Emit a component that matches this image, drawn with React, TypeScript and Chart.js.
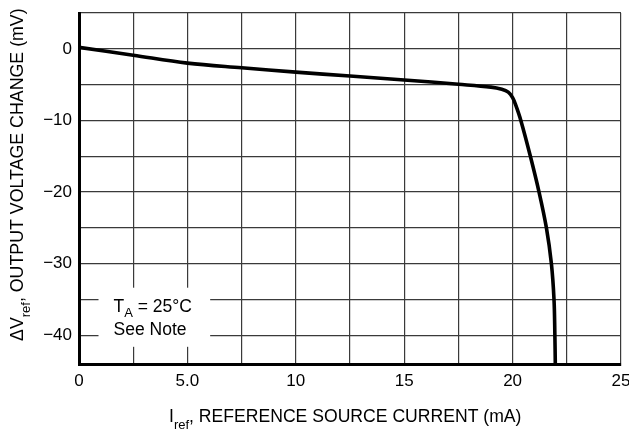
import React, { useEffect, useRef } from "react";
import { Chart, registerables } from "chart.js";

Chart.register(...registerables);

// ---- data ----
const currentMA: number[] = [0, 2.5, 5, 7.5, 10, 12.5, 15, 17.5, 19, 19.5, 19.8, 20.0, 20.15, 20.38, 20.82, 21.22, 21.56, 21.79, 21.91, 21.95, 21.97];
const deltaVmV: number[] = [0.2, -0.9, -2.0, -2.65, -3.25, -3.8, -4.35, -4.95, -5.35, -5.65, -6.05, -6.8, -7.9, -10, -15, -20, -25, -30, -35, -40, -44];

const xGrid: number[] = [0, 2.5, 5, 7.5, 10, 12.5, 15, 17.5, 20, 22.5, 25];
const xLabelValues: number[] = [0, 5, 10, 15, 20, 25];
const xLabels: string[] = ["0", "5.0", "10", "15", "20", "25"];

const yGrid: number[] = [5, 0, -5, -10, -15, -20, -25, -30, -35, -40, -44];
const yLabelValues: number[] = [0, -10, -20, -30, -40];
const yLabels: string[] = ["0", "\u221210", "\u221220", "\u221230", "\u221240"];

const X_MIN = 0, X_MAX = 25, Y_MIN = -44, Y_MAX = 5;

const FONT = '"Liberation Sans", Arial, Helvetica, sans-serif';

type Part = { t: string; sub?: boolean };

function drawParts(ctx: CanvasRenderingContext2D, parts: Part[], x: number, y: number, main: number, sub: number, shift: number) {
  let cx = x;
  for (const p of parts) {
    ctx.font = `${p.sub ? sub : main}px ${FONT}`;
    ctx.fillText(p.t, cx, p.sub ? y + shift : y);
    cx += ctx.measureText(p.t).width;
  }
}

const labelsPlugin = {
  id: "customLabels",
  beforeDatasetsDraw(chart: any) {
    const ctx: CanvasRenderingContext2D = chart.ctx;
    const xs = chart.scales.x, ys = chart.scales.y;
    // annotation box (white background over grid)
    const bx0 = xs.getPixelForValue(0.9), bx1 = xs.getPixelForValue(6.05);
    const by0 = ys.getPixelForValue(-33.35), by1 = ys.getPixelForValue(-41.6);
    ctx.save();
    ctx.fillStyle = "#ffffff";
    ctx.fillRect(bx0, by0, bx1 - bx0, by1 - by0);
    ctx.fillStyle = "#000";
    ctx.textBaseline = "alphabetic";
    ctx.textAlign = "left";
    drawParts(ctx, [{ t: "T" }, { t: "A", sub: true }, { t: " = 25\u00B0C" }], bx0 + 15, by0 + 24, 17.5, 13, 5);
    drawParts(ctx, [{ t: "See Note" }], bx0 + 15, by0 + 47, 17.5, 13, 5);
    ctx.restore();
  },
  afterDraw(chart: any) {
    const ctx: CanvasRenderingContext2D = chart.ctx;
    const area = chart.chartArea;
    ctx.save();
    ctx.fillStyle = "#000";
    ctx.textBaseline = "alphabetic";
    ctx.textAlign = "left";
    // x title
    drawParts(ctx, [{ t: "I" }, { t: "ref", sub: true }, { t: ", REFERENCE SOURCE CURRENT (mA)" }], area.left + 90, area.bottom + 58, 17.6, 13, 6.5);
    // y title
    ctx.translate(23, 341);
    ctx.rotate(-Math.PI / 2);
    drawParts(ctx, [{ t: "\u0394V" }, { t: "ref", sub: true }, { t: ", OUTPUT VOLTAGE CHANGE (mV)" }], 0, 0, 17.8, 13, 7);
    ctx.restore();
  },
};

export default function App() {
  const ref = useRef<HTMLCanvasElement | null>(null);
  useEffect(() => {
    if (!ref.current) return;
    const points = currentMA.map((x, i) => ({ x, y: deltaVmV[i] }));
    const chart = new Chart(ref.current, {
      type: "line",
      data: {
        datasets: [
          {
            data: points,
            borderColor: "#000",
            borderWidth: 3.6,
            pointRadius: 0,
            fill: false,
            tension: 0.35,
          },
        ],
      },
      options: {
        animation: false,
        responsive: false,
        devicePixelRatio: 1,
        layout: { padding: { top: 13, right: 8, left: 0, bottom: 0 } },
        plugins: { legend: { display: false }, tooltip: { enabled: false }, title: { display: false } },
        scales: {
          x: {
            type: "linear",
            min: X_MIN,
            max: X_MAX,
            afterBuildTicks: (s: any) => {
              s.ticks = xGrid.map((v) => ({ value: v }));
            },
            afterFit: (s: any) => {
              s.height = 69;
              s.paddingLeft = 0;
              s.paddingRight = 0;
            },
            grid: { color: "#3a3a3a", lineWidth: 1.2, drawTicks: false },
            border: { display: true, color: "#000", width: 3 },
            ticks: {
              autoSkip: false,
              maxRotation: 0,
              padding: 7,
              color: "#000",
              font: { family: FONT, size: 17 },
              callback: (v: any) => {
                const i = xLabelValues.indexOf(Number(v));
                return i >= 0 ? xLabels[i] : "";
              },
            },
          },
          y: {
            type: "linear",
            min: Y_MIN,
            max: Y_MAX,
            afterBuildTicks: (s: any) => {
              s.ticks = yGrid.map((v) => ({ value: v }));
            },
            afterFit: (s: any) => {
              s.width = 79;
              s.paddingTop = 0;
              s.paddingBottom = 0;
            },
            grid: { color: "#3a3a3a", lineWidth: 1.2, drawTicks: false },
            border: { display: true, color: "#000", width: 3 },
            ticks: {
              autoSkip: false,
              padding: 7,
              color: "#000",
              font: { family: FONT, size: 17 },
              callback: (v: any) => {
                const i = yLabelValues.indexOf(Number(v));
                return i >= 0 ? yLabels[i] : "";
              },
            },
          },
        },
      },
      plugins: [labelsPlugin],
    } as any);
    return () => chart.destroy();
  }, []);
  return (
    <div style={{ position: "absolute", left: 0, top: 0, width: 629, height: 433, background: "#fff" }}>
      <canvas ref={ref} width={629} height={433} style={{ display: "block" }} />
    </div>
  );
}
